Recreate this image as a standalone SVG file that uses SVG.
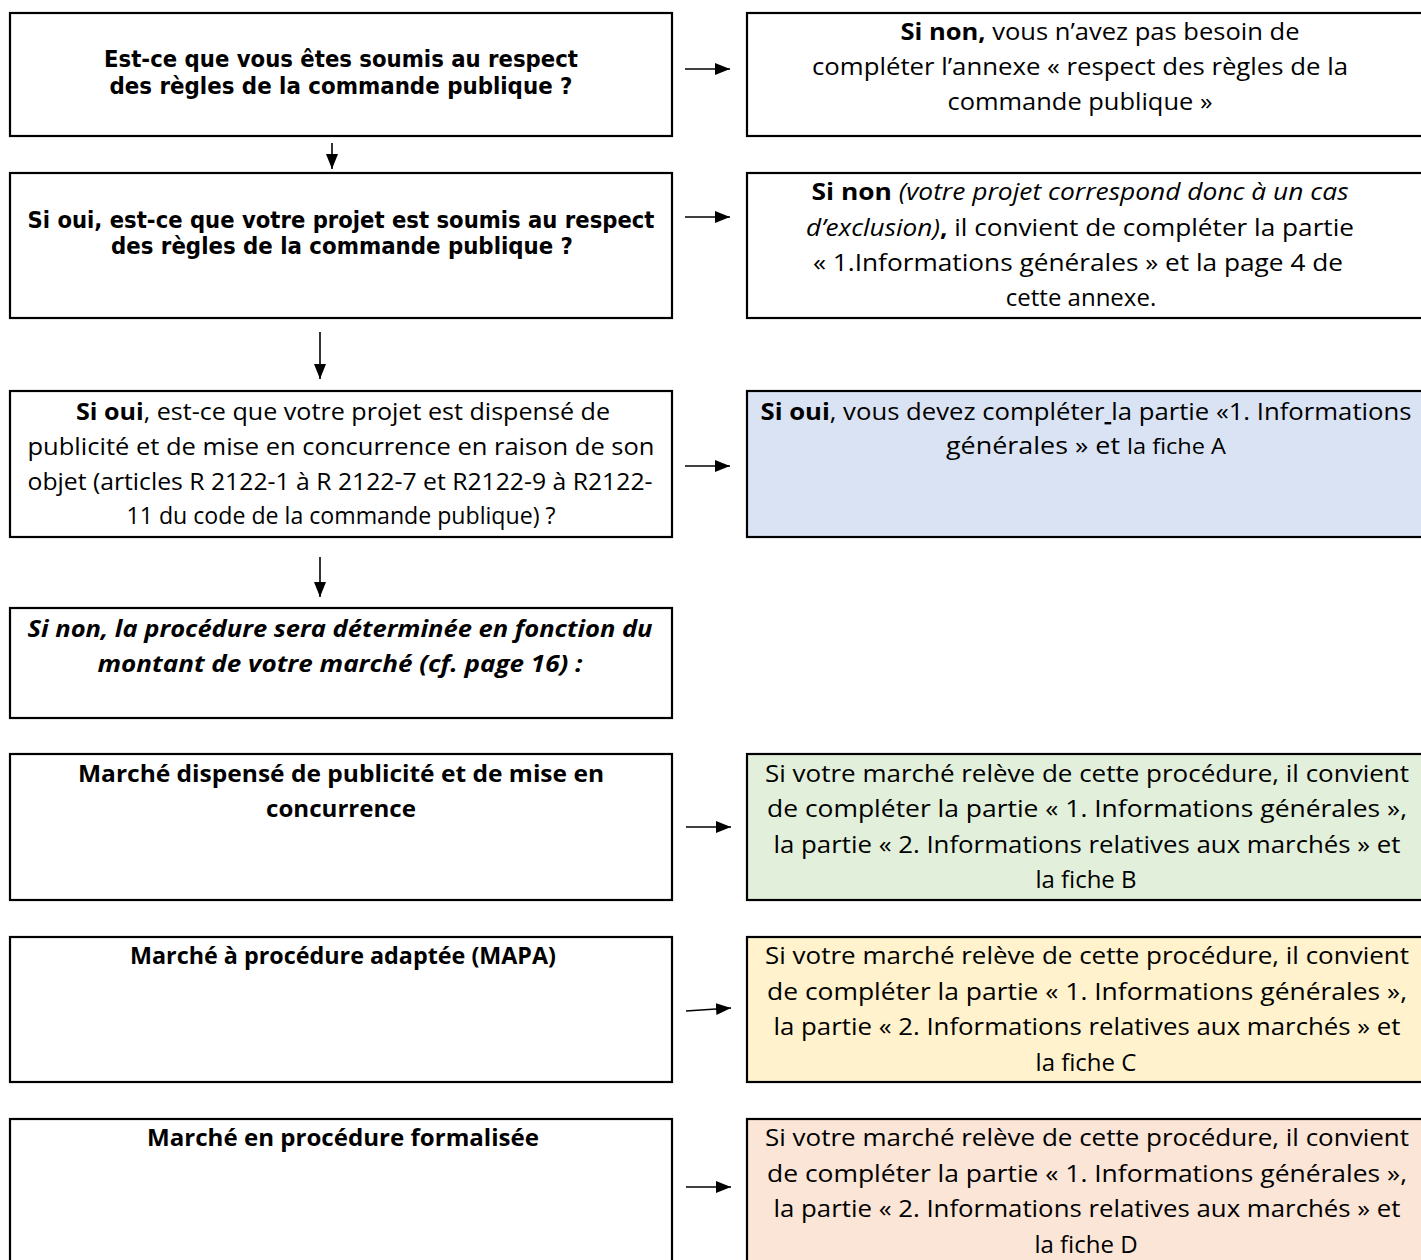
<svg xmlns="http://www.w3.org/2000/svg" width="1421" height="1260" viewBox="0 0 1421 1260">
<style>
.box{stroke:#000;stroke-width:2.2;}
.w{fill:#fff;}
.blue{fill:#DAE3F3;}
.green{fill:#E2EFDA;}
.yellow{fill:#FFF2CC;}
.pink{fill:#FBE5D6;}
.t{font-family:"Open Sans","Noto Sans",sans-serif;font-size:24px;fill:#000;text-anchor:middle;}
.th{font-family:"DejaVu Sans",Verdana,sans-serif;font-size:23px;font-weight:bold;fill:#000;text-anchor:middle;}
.b{font-weight:bold;}
.i{font-style:italic;}
.conn line{stroke:#000;stroke-width:1.6;}
</style>
<defs>
<marker id="ahl" viewBox="0 0 15 12" refX="15" refY="6" markerWidth="15" markerHeight="12" markerUnits="userSpaceOnUse" orient="auto">
<path d="M0,0 L15,6 L0,12 z" fill="#000"/>
</marker>
</defs>

<g id="n1">
<rect class="box w" x="10" y="13" width="662" height="123"/>
<text class="th" x="341" y="67" textLength="474" lengthAdjust="spacingAndGlyphs">Est-ce que vous êtes soumis au respect</text>
<text class="th" x="341" y="94" textLength="463" lengthAdjust="spacingAndGlyphs">des règles de la commande publique ?</text>
</g>
<g id="r1">
<rect class="box w" x="747" y="13" width="690" height="123"/>
<text class="t" x="1100" y="40" textLength="399" lengthAdjust="spacingAndGlyphs"><tspan class="b">Si non,</tspan> vous n’avez pas besoin de</text>
<text class="t" x="1080" y="75" textLength="536" lengthAdjust="spacingAndGlyphs">compléter l’annexe « respect des règles de la</text>
<text class="t" x="1080" y="110" textLength="265" lengthAdjust="spacingAndGlyphs">commande publique »</text>
</g>

<g id="n2">
<rect class="box w" x="10" y="173" width="662" height="145"/>
<text class="th" x="341" y="228" textLength="627" lengthAdjust="spacingAndGlyphs">Si oui, est-ce que votre projet est soumis au respect</text>
<text class="th" x="342" y="254" textLength="462" lengthAdjust="spacingAndGlyphs">des règles de la commande publique ?</text>
</g>
<g id="r2">
<rect class="box w" x="747" y="173" width="690" height="145"/>
<text class="t" x="1080" y="200" textLength="537" lengthAdjust="spacingAndGlyphs"><tspan class="b">Si non</tspan> <tspan class="i">(votre projet correspond donc à un cas</tspan></text>
<text class="t" x="1080" y="236" textLength="548" lengthAdjust="spacingAndGlyphs"><tspan class="i">d’exclusion)</tspan><tspan class="b">,</tspan> il convient de compléter la partie</text>
<text class="t" x="1078" y="271" textLength="530" lengthAdjust="spacingAndGlyphs">« 1.Informations générales » et la page 4 de</text>
<text class="t" x="1081" y="306">cette annexe.</text>
</g>

<g id="n3">
<rect class="box w" x="10" y="391" width="662" height="146"/>
<text class="t" x="343" y="420" textLength="534" lengthAdjust="spacingAndGlyphs"><tspan class="b">Si oui</tspan>, est-ce que votre projet est dispensé de</text>
<text class="t" x="341" y="455" textLength="627" lengthAdjust="spacingAndGlyphs">publicité et de mise en concurrence en raison de son</text>
<text class="t" x="340" y="490" textLength="625" lengthAdjust="spacingAndGlyphs">objet (articles R 2122-1 à R 2122-7 et  R2122-9 à R2122-</text>
<text class="t" x="341" y="524" textLength="429" lengthAdjust="spacingAndGlyphs">11 du code de la commande publique) ?</text>
</g>
<g id="r3">
<rect class="box blue" x="747" y="391" width="690" height="146"/>
<text class="t" x="1086" y="420" textLength="651" lengthAdjust="spacingAndGlyphs"><tspan class="b">Si oui</tspan>, vous devez compléter<tspan text-decoration="underline"> </tspan>la partie «1. Informations</text>
<text class="t" x="1086" y="454" textLength="280" lengthAdjust="spacingAndGlyphs">générales » et  <tspan font-size="21">la fiche A</tspan></text>
</g>

<g id="n4">
<rect class="box w" x="10" y="608" width="662" height="110"/>
<text class="t b i" x="340" y="637" textLength="625" lengthAdjust="spacingAndGlyphs">Si non, la procédure sera déterminée en fonction du</text>
<text class="t b i" x="340" y="672" textLength="485" lengthAdjust="spacingAndGlyphs">montant de votre marché (cf. page 16) :</text>
</g>

<g id="n5">
<rect class="box w" x="10" y="754" width="662" height="146"/>
<text class="t b" x="341" y="782" textLength="526" lengthAdjust="spacingAndGlyphs">Marché dispensé de publicité et de mise en</text>
<text class="t b" x="341" y="817" textLength="150" lengthAdjust="spacingAndGlyphs">concurrence</text>
</g>
<g id="r5">
<rect class="box green" x="747" y="754" width="690" height="146"/>
<text class="t" x="1087" y="782" textLength="644" lengthAdjust="spacingAndGlyphs">Si votre marché relève de cette procédure, il convient</text>
<text class="t" x="1087" y="817" textLength="640" lengthAdjust="spacingAndGlyphs">de compléter la partie « 1. Informations générales »,</text>
<text class="t" x="1087" y="853" textLength="627" lengthAdjust="spacingAndGlyphs">la partie « 2. Informations relatives aux marchés » et</text>
<text class="t" x="1086" y="888">la fiche B</text>
</g>

<g id="n6">
<rect class="box w" x="10" y="937" width="662" height="145"/>
<text class="t b" x="343" y="964" textLength="426" lengthAdjust="spacingAndGlyphs">Marché à procédure adaptée (MAPA)</text>
</g>
<g id="r6">
<rect class="box yellow" x="747" y="937" width="690" height="145"/>
<text class="t" x="1087" y="964" textLength="644" lengthAdjust="spacingAndGlyphs">Si votre marché relève de cette procédure, il convient</text>
<text class="t" x="1087" y="1000" textLength="640" lengthAdjust="spacingAndGlyphs">de compléter la partie « 1. Informations générales »,</text>
<text class="t" x="1087" y="1035" textLength="627" lengthAdjust="spacingAndGlyphs">la partie « 2. Informations relatives aux marchés » et</text>
<text class="t" x="1086" y="1071">la fiche C</text>
</g>

<g id="n7">
<rect class="box w" x="10" y="1119" width="662" height="160"/>
<text class="t b" x="343" y="1146" textLength="392" lengthAdjust="spacingAndGlyphs">Marché en procédure formalisée</text>
</g>
<g id="r7">
<rect class="box pink" x="747" y="1119" width="690" height="160"/>
<text class="t" x="1087" y="1146" textLength="644" lengthAdjust="spacingAndGlyphs">Si votre marché relève de cette procédure, il convient</text>
<text class="t" x="1087" y="1182" textLength="640" lengthAdjust="spacingAndGlyphs">de compléter la partie « 1. Informations générales »,</text>
<text class="t" x="1087" y="1217" textLength="627" lengthAdjust="spacingAndGlyphs">la partie « 2. Informations relatives aux marchés » et</text>
<text class="t" x="1086" y="1253">la fiche D</text>
</g>

<g id="connectors" class="conn">
<line x1="685" y1="69" x2="730" y2="69" marker-end="url(#ahl)"/>
<line x1="685" y1="217" x2="730" y2="217" marker-end="url(#ahl)"/>
<line x1="685" y1="466" x2="730" y2="466" marker-end="url(#ahl)"/>
<line x1="686" y1="827" x2="731" y2="827" marker-end="url(#ahl)"/>
<line x1="686" y1="1011" x2="731" y2="1008" marker-end="url(#ahl)"/>
<line x1="686" y1="1187" x2="731" y2="1187" marker-end="url(#ahl)"/>
<line x1="332" y1="143" x2="332" y2="169" marker-end="url(#ahl)"/>
<line x1="320" y1="332" x2="320" y2="379" marker-end="url(#ahl)"/>
<line x1="320" y1="557" x2="320" y2="597" marker-end="url(#ahl)"/>
</g>
</svg>
